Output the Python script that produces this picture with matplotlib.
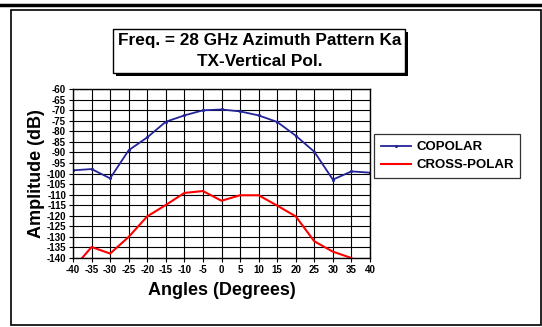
import numpy as np
import matplotlib
matplotlib.use('Agg')
import matplotlib.pyplot as plt
from matplotlib.patches import Rectangle
from matplotlib.lines import Line2D

plt.rcParams['font.family'] = ['Liberation Sans', 'DejaVu Sans']
plt.rcParams['font.weight'] = 'bold'
plt.rcParams['axes.unicode_minus'] = False

# Data
angles = [-40, -35, -30, -25, -20, -15, -10, -5, 0, 5, 10, 15, 20, 25, 30, 35, 40]
copolar = [-98.5, -97.9, -102.3, -89.0, -82.9, -75.5, -72.5, -70.1, -69.7,
           -70.6, -72.5, -75.6, -82.1, -89.7, -102.9, -99.0, -99.6]
crosspolar = [-145.0, -134.8, -137.9, -130.0, -120.3, -114.9, -109.2, -108.3, -112.9,
              -110.3, -110.3, -115.2, -120.3, -132.1, -137.0, -140.0, -147.0]
xticks = np.arange(-40, 41, 5)
yticks = np.arange(-140, -59, 5)

W, H = 542, 327
fig = plt.figure(figsize=(W / 100, H / 100), dpi=100)

def fx(px):
    return px / W

def fy(py):
    return 1 - py / H

# outer frame and top rule
fig.add_artist(Line2D([0, 1], [fy(5), fy(5)], color='black', lw=2.5))
fig.add_artist(Rectangle((fx(11), fy(325)), fx(530), 315 / H, fill=False,
                         edgecolor='black', lw=1.2))

ax = fig.add_axes([fx(73), fy(258), fx(297), 169 / H])
ax.plot(angles, copolar, color='#23239a', lw=1.3, marker='.', markersize=2.5,
        label='COPOLAR')
ax.plot(angles, crosspolar, color='#ff0000', lw=1.5, label='CROSS-POLAR')
ax.set_xlim(-40, 40)
ax.set_ylim(-140, -60)
ax.set_xticks(xticks)
ax.set_yticks(yticks)
ax.grid(True, color='black', lw=0.8)
ax.set_axisbelow(True)
ax.tick_params(axis='both', labelsize=7, length=3, width=0.8, direction='out', pad=2)
for lab in ax.get_xticklabels() + ax.get_yticklabels():
    lab.set_fontweight('bold')
for s in ax.spines.values():
    s.set_linewidth(1)
ax.set_xlabel('Angles (Degrees)', fontsize=13, fontweight='bold', labelpad=5)
ax.set_ylabel('Amplitude (dB)', fontsize=13, fontweight='bold', labelpad=1)

leg = ax.legend(loc='lower left', bbox_to_anchor=(fx(374), fy(178)), bbox_transform=fig.transFigure,
                prop={'size': 9.5, 'weight': 'bold'}, frameon=True, fancybox=False,
                handlelength=2.3, handletextpad=0.4, borderpad=0.5, labelspacing=0.45,
                borderaxespad=0)
leg.get_frame().set_edgecolor('black')
leg.get_frame().set_linewidth(0.9)

# title box with shadow
fig.add_artist(Rectangle((fx(116), fy(76)), fx(292), 44 / H, facecolor='black',
                         edgecolor='black', lw=0))
fig.add_artist(Rectangle((fx(113), fy(73)), fx(292), 44 / H, facecolor='white',
                         edgecolor='black', lw=1))
fig.text(fx(260), fy(40), 'Freq. = 28 GHz Azimuth Pattern Ka', ha='center', va='center',
         fontsize=12.4, fontweight='bold')
fig.text(fx(260), fy(61), 'TX-Vertical Pol.', ha='center', va='center',
         fontsize=12.4, fontweight='bold')

fig.savefig('out.png', dpi=100)
